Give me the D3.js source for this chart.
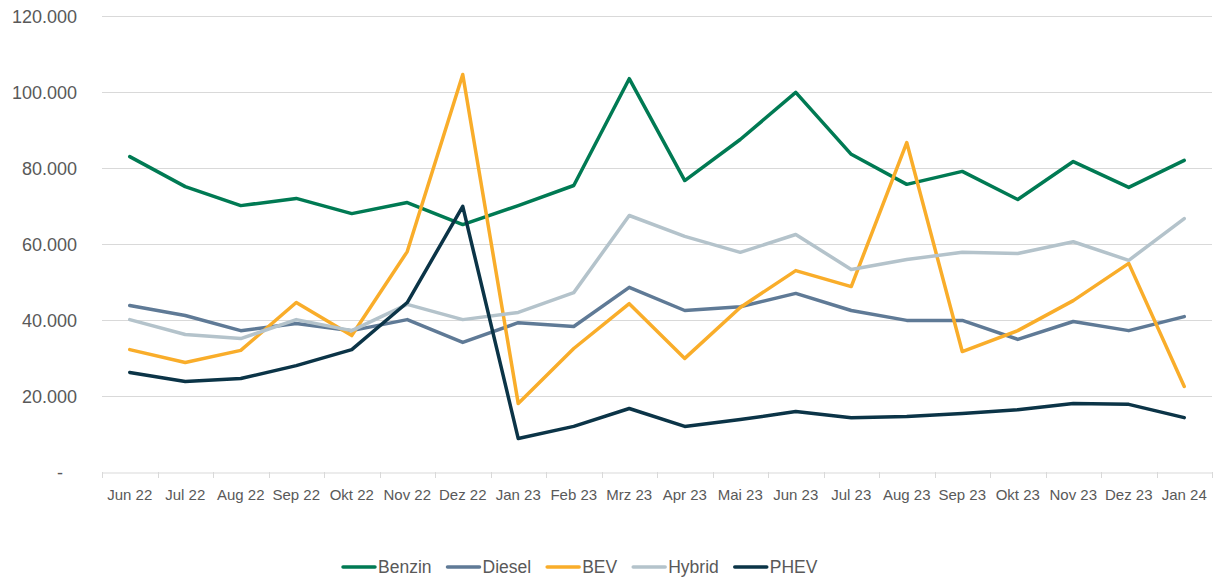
<!DOCTYPE html>
<html>
<head>
<meta charset="utf-8">
<script src="https://cdn.jsdelivr.net/npm/d3@7"></script>
<style>
  body { margin: 0; background: #fff; }
  text { font-family: "Liberation Sans", Arial, sans-serif; fill: #595959; }
</style>
</head>
<body>
<div id="chart"></div>
<script>
var months = ["Jun 22","Jul 22","Aug 22","Sep 22","Okt 22","Nov 22","Dez 22","Jan 23","Feb 23","Mrz 23",
              "Apr 23","Mai 23","Jun 23","Jul 23","Aug 23","Sep 23","Okt 23","Nov 23","Dez 23","Jan 24"]
var benzin = [83000,75100,70100,72000,68000,70900,65100,70100,75400,103500,76700,87500,99900,83600,75700,79100,71700,81700,74900,82000]
var diesel = [43800,41200,37200,39100,37200,40100,34100,39300,38300,48600,42500,43500,47000,42500,39900,39900,34900,39600,37200,40900]
var bev    = [32200,28800,32000,44600,35900,58000,104600,18000,32500,44300,29900,43300,53000,48800,86700,31700,37200,45100,54900,22500]
var hybrid = [40100,36200,35100,40100,37200,44100,40100,42000,47200,67500,62000,57800,62500,53300,55900,57800,57500,60600,55700,66700]
var phev   = [26200,23800,24600,28000,32200,44600,69900,8800,12000,16700,12000,13800,15900,14300,14600,15400,16400,18000,17800,14300]
var yTicks = [0,20000,40000,60000,80000,100000,120000]

var series = [
  {name:"Benzin", values:benzin, color:"#007a53"},
  {name:"Diesel", values:diesel, color:"#5f7a96"},
  {name:"BEV",    values:bev,    color:"#f9ad2a"},
  {name:"Hybrid", values:hybrid, color:"#b4c3cb"},
  {name:"PHEV",   values:phev,   color:"#0b3447"}
]

var W = 1217, H = 581
var margin = {top:16, right:5, bottom:109, left:102}
var width = W - margin.left - margin.right,
    height = H - margin.top - margin.bottom

var svg = d3.select("#chart").append("svg")
    .attr("width", W).attr("height", H)

var chart = svg.append("g")
    .attr("transform", "translate(" + margin.left + "," + margin.top + ")")

var xScale = d3.scaleBand().domain(months).range([0, width])
var yScale = d3.scaleLinear().domain([0, 120000]).range([height, 0])

// gridlines
chart.selectAll(".grid")
  .data(yTicks.filter(function(d){ return d > 0 }))
  .enter().append("line")
  .attr("x1", 0).attr("x2", width)
  .attr("y1", function(d){ return Math.round(yScale(d)) + 0.5 })
  .attr("y2", function(d){ return Math.round(yScale(d)) + 0.5 })
  .attr("stroke", "#d9d9d9").attr("stroke-width", 1)

// y labels (zero shown as "-" like accounting format)
chart.selectAll(".ylab")
  .data(yTicks)
  .enter().append("text")
  .attr("x", function(d){ return d === 0 ? -39 : -25 })
  .attr("y", function(d){ return yScale(d) + 1 })
  .attr("dy", "0.35em")
  .attr("text-anchor", "end")
  .style("font-size", "18px")
  .text(function(d){ return d === 0 ? "-" : d3.format(",")(d).replace(/,/g, ".") })

// x axis
var xAxis = chart.append("g")
  .attr("transform", "translate(0," + (Math.round(height) + 0.5) + ")")
  .call(d3.axisBottom(xScale).tickSize(0).tickPadding(17))
xAxis.select(".domain").attr("stroke", "#d9d9d9")
xAxis.selectAll("text").style("font-size", "15px").attr("fill", "#595959")

var bounds = months.map(function(m){ return xScale(m) }).concat([width])
chart.selectAll(".xtick")
  .data(bounds)
  .enter().append("line")
  .attr("x1", function(d){ return Math.round(d) + 0.5 })
  .attr("x2", function(d){ return Math.round(d) + 0.5 })
  .attr("y1", height).attr("y2", height + 6)
  .attr("stroke", "#d9d9d9")

// lines
var line = d3.line()
  .x(function(d, i){ return xScale(months[i]) + xScale.bandwidth() / 2 })
  .y(function(d){ return yScale(d) })

chart.selectAll(".series")
  .data(series)
  .enter().append("path")
  .attr("d", function(s){ return line(s.values) })
  .attr("fill", "none")
  .attr("stroke", function(s){ return s.color })
  .attr("stroke-width", 3.5)
  .attr("stroke-linejoin", "round")
  .attr("stroke-linecap", "round")

// legend
var legend = svg.append("g")
var lx = 343, ly = 567
series.forEach(function(s){
  var g = legend.append("g").attr("transform", "translate(" + lx + "," + ly + ")")
  g.append("line").attr("x1", 0).attr("x2", 32).attr("y1", 0).attr("y2", 0)
    .attr("stroke", s.color).attr("stroke-width", 3.5).attr("stroke-linecap", "round")
  var t = g.append("text").attr("x", 35).attr("dy", "0.35em")
    .style("font-size", "17.5px").text(s.name)
  lx += 35 + t.node().getComputedTextLength() + 16
})
</script>
</body>
</html>
